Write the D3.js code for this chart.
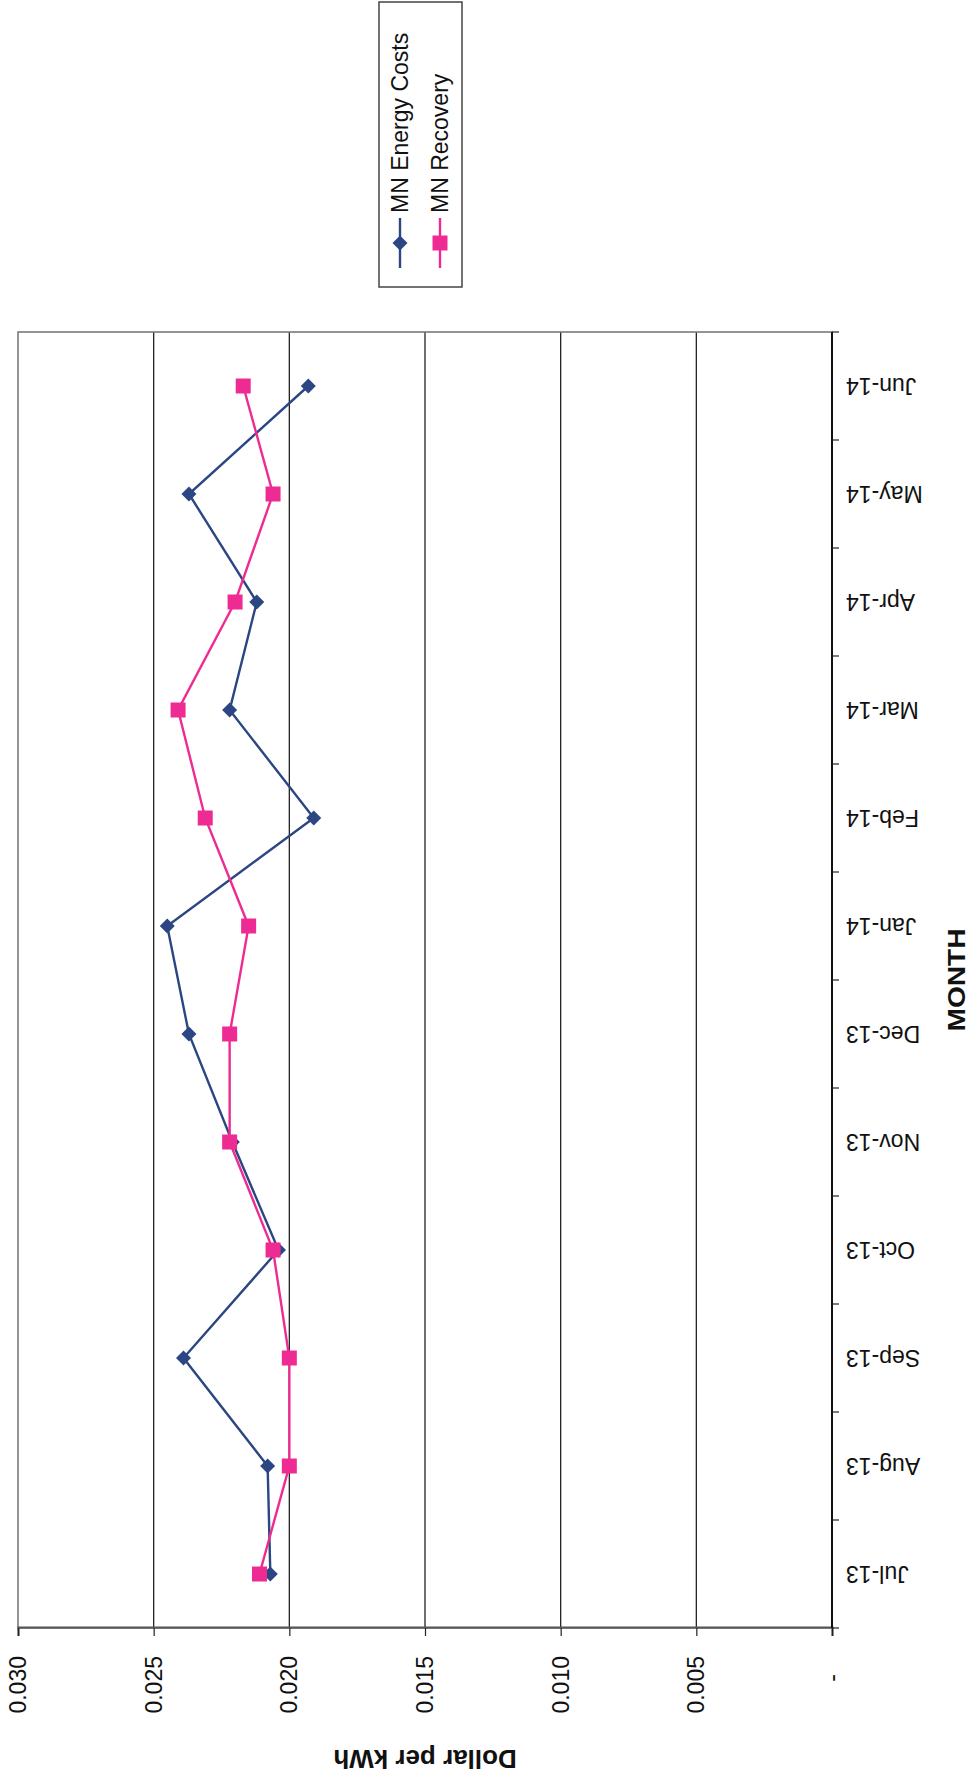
<!DOCTYPE html>
<html>
<head>
<meta charset="utf-8">
<script src="https://cdn.jsdelivr.net/npm/d3@7"></script>
<style>
  html, body { margin: 0; padding: 0; background: #fff; }
  svg { display: block; font-family: "Liberation Sans", Arial, sans-serif; }
</style>
</head>
<body>
<svg id="chart" width="976" height="1780"></svg>
<script>
// Monthly cost vs. recovery, $/kWh
const months = ["Jul-13", "Aug-13", "Sep-13", "Oct-13", "Nov-13", "Dec-13",
                "Jan-14", "Feb-14", "Mar-14", "Apr-14", "May-14", "Jun-14"];
const energyCosts = [0.0207, 0.0208, 0.0239, 0.0204, 0.0221, 0.0237,
                     0.0245, 0.0191, 0.0222, 0.0212, 0.0237, 0.0193];
const recovery = [0.0211, 0.0200, 0.0200, 0.0206, 0.0222, 0.0222,
                  0.0215, 0.0231, 0.0241, 0.0220, 0.0206, 0.0217];
const valueTicks = [0, 0.005, 0.010, 0.015, 0.020, 0.025, 0.030];
const seriesNames = ["MN Energy Costs", "MN Recovery"];

const series = [
  { name: seriesNames[0], values: energyCosts, color: "#2b4682", marker: "diamond" },
  { name: seriesNames[1], values: recovery, color: "#ee2b92", marker: "square" }
];

// The page is laid out in landscape and turned a quarter-turn counter-clockwise.
const W = 1780, H = 976;
const svg = d3.select("#chart");
const g = svg.append("g").attr("transform", `translate(0,${W}) rotate(-90)`);

const plot = { left: 152, right: 1448, top: 18, bottom: 832 };
const font = "'Liberation Sans', Arial, sans-serif";

const x = d3.scalePoint().domain(months).range([plot.left, plot.right]).padding(0.5);
const band = d3.scaleBand().domain(months).range([plot.left, plot.right]);
const y = d3.scaleLinear().domain([0, 0.03]).range([plot.bottom, plot.top]);

// gridlines
g.append("g")
  .attr("class", "grid")
  .selectAll("line")
  .data(valueTicks.filter(d => d > 0 && d < 0.03))
  .join("line")
  .attr("x1", plot.left).attr("x2", plot.right)
  .attr("y1", d => y(d)).attr("y2", d => y(d))
  .attr("stroke", "#222").attr("stroke-width", 1.3);

// plot frame
g.append("rect")
  .attr("x", plot.left).attr("y", plot.top)
  .attr("width", plot.right - plot.left).attr("height", plot.bottom - plot.top)
  .attr("fill", "none").attr("stroke", "#7a7a7a").attr("stroke-width", 1.6);

// value axis
const yAxis = g.append("g")
  .attr("transform", `translate(${plot.left},0)`)
  .call(d3.axisLeft(y).tickValues(valueTicks).tickSize(8).tickPadding(20)
    .tickFormat(d => d === 0 ? "-" : d3.format(".3f")(d)));
yAxis.select(".domain").attr("stroke", "#555").attr("stroke-width", 2.2);
yAxis.selectAll(".tick line").attr("stroke", "#222").attr("stroke-width", 1.2);
yAxis.selectAll(".tick text")
  .attr("font-family", font).attr("font-size", 23).attr("fill", "#111")
  .attr("dx", d => d === 0 ? -18 : 0);

// category axis
const xAxis = g.append("g").attr("transform", `translate(0,${plot.bottom})`);
xAxis.append("line")
  .attr("x1", plot.left).attr("x2", plot.right)
  .attr("stroke", "#111").attr("stroke-width", 2);
xAxis.selectAll("line.tick")
  .data(months.concat([null]))
  .join("line")
  .attr("class", "tick")
  .attr("x1", (d, i) => i < months.length ? band(d) : plot.right)
  .attr("x2", (d, i) => i < months.length ? band(d) : plot.right)
  .attr("y1", 0).attr("y2", 7)
  .attr("stroke", "#222").attr("stroke-width", 1.2);
xAxis.selectAll("text")
  .data(months)
  .join("text")
  .attr("transform", d => `translate(${x(d)},14) rotate(-90)`)
  .attr("text-anchor", "end")
  .attr("dy", "0.35em")
  .attr("font-family", font).attr("font-size", 23).attr("fill", "#111")
  .text(d => d);

// axis titles
g.append("text")
  .attr("transform", `translate(30,${(plot.top + plot.bottom) / 2}) rotate(-90)`)
  .attr("text-anchor", "middle")
  .attr("font-family", font).attr("font-size", 26).attr("font-weight", "bold")
  .attr("fill", "#111")
  .text("Dollar per kWh");

g.append("text")
  .attr("x", (plot.left + plot.right) / 2).attr("y", 965)
  .attr("text-anchor", "middle")
  .attr("font-family", font).attr("font-size", 24).attr("font-weight", "bold")
  .attr("textLength", 103).attr("lengthAdjust", "spacingAndGlyphs")
  .attr("fill", "#111")
  .text("MONTH");

// series
const markerPath = {
  diamond: "M0,-7.5L7.5,0L0,7.5L-7.5,0Z",
  square: "M-7.5,-7.5H7.5V7.5H-7.5Z"
};
const line = d3.line().x((d, i) => x(months[i])).y(d => y(d));

series.forEach(s => {
  const sg = g.append("g");
  sg.append("path")
    .datum(s.values)
    .attr("d", line)
    .attr("fill", "none").attr("stroke", s.color).attr("stroke-width", 2.4);
  sg.selectAll("path.mark")
    .data(s.values)
    .join("path")
    .attr("class", "mark")
    .attr("transform", (d, i) => `translate(${x(months[i])},${y(d)})`)
    .attr("d", markerPath[s.marker])
    .attr("fill", s.color);
});

// legend
const legend = g.append("g").attr("transform", "translate(1493,379)");
legend.append("rect")
  .attr("width", 285).attr("height", 83)
  .attr("fill", "#fff").attr("stroke", "#444").attr("stroke-width", 1.5);
series.forEach((s, i) => {
  const row = legend.append("g").attr("transform", `translate(0,${21 + i * 40})`);
  row.append("line").attr("x1", 19).attr("x2", 69)
    .attr("stroke", s.color).attr("stroke-width", 2.4);
  row.append("path").attr("transform", "translate(44,0)")
    .attr("d", markerPath[s.marker]).attr("fill", s.color);
  row.append("text").attr("x", 74).attr("dy", "0.35em")
    .attr("font-family", font).attr("font-size", 23).attr("fill", "#111")
    .text(s.name);
});
</script>
</body>
</html>
